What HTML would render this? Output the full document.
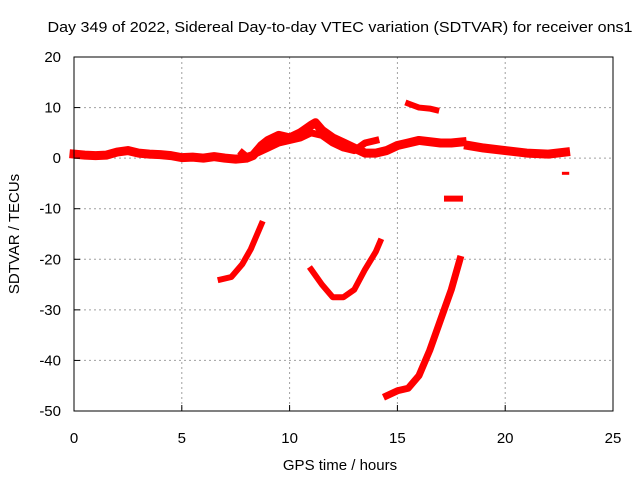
<!DOCTYPE html>
<html><head><meta charset="utf-8"><style>
body{margin:0;background:#fff}
svg text{font-family:"Liberation Sans",sans-serif;font-size:14px;fill:#000}
</style></head><body>
<svg id="chart" width="640" height="480">
<text x="340" y="32" text-anchor="middle" textLength="585" lengthAdjust="spacingAndGlyphs" style="font-size:15px">Day 349 of 2022, Sidereal Day-to-day VTEC variation (SDTVAR) for receiver ons1</text>
<text x="340" y="470" text-anchor="middle" style="font-size:15px">GPS time / hours</text>
<text transform="translate(19,234) rotate(-90)" text-anchor="middle" style="font-size:15px">SDTVAR / TECUs</text>
<g id="grid"></g><g id="marks"></g><g id="axes"></g>
</svg>
<script>
const xTicks=[0,5,10,15,20,25];
const yTicks=[20,10,0,-10,-20,-30,-40,-50];
const trackMain=[[0,0.8],[0.5,0.6],[1,0.5],[1.5,0.6],[2,1.2],[2.5,1.5],[3,1],[3.5,0.8],[4,0.7],[4.5,0.5],[5,0.1],[5.5,0.2],[6,0],[6.5,0.3],[7,0],[7.5,-0.2],[8,0],[8.3,0.5],[8.7,2.5],[9,3.5],[9.5,4.5],[10,4],[10.5,5],[11,6.5],[11.2,7],[11.5,5.5],[12,4],[12.5,3],[13,2],[13.5,1],[14,1],[14.5,1.5],[15,2.5],[15.5,3],[16,3.5],[17,3],[17.5,3],[18,3.2]];
const trackLate=[[18.3,2.5],[19,2],[20,1.5],[21,1],[22,0.8],[22.8,1.2]];
const trackBranch=[[7.8,1],[8,0.3],[8.5,1],[9,2],[9.5,3],[10,3.5],[10.5,4],[11,5],[11.5,4.5],[12,3],[12.5,2],[13,1.5],[13.5,3],[14,3.5]];
const trackHigh=[[15.5,10.8],[16,10],[16.5,9.8],[16.8,9.5]];
const trackMinus8=[[17.3,-8],[17.9,-8]];
const trackPoint=[[22.7,-3],[22.9,-3]];
const curve1=[[6.8,-24],[7.3,-23.5],[7.8,-21],[8.2,-18],[8.5,-15],[8.7,-13]];
const curve2=[[11,-22],[11.5,-25],[12,-27.5],[12.5,-27.5],[13,-26],[13.5,-22],[14,-18.5],[14.2,-16.5]];
const curve3=[[14.5,-47],[15,-46],[15.5,-45.5],[16,-43],[16.5,-38],[17,-32],[17.5,-26],[17.9,-20]];
const X0=74,X1=613,Y0=57,Y1=411;
const sx=v=>X0+(v-0)/25*(X1-X0);
const sy=v=>Y0+(20-v)/70*(Y1-Y0);
const NS="http://www.w3.org/2000/svg";
function mk(t,a,p){const e=document.createElementNS(NS,t);for(const k in a)e.setAttribute(k,a[k]);p.appendChild(e);return e;}
const grid=document.getElementById('grid'),axes=document.getElementById('axes'),marks=document.getElementById('marks');
xTicks.forEach(t=>{const x=sx(t);
 if(t>0&&t<25){const g=mk('line',{x1:x,x2:x,y1:Y0,y2:Y1,stroke:'#a0a0a0','stroke-dasharray':'2,3'},grid);
 }
 const l=mk('line',{x1:x,x2:x,y1:Y1,y2:Y1-6,stroke:'#000'},axes);
 
 const tx=mk('text',{x:x,y:Y1+32,'text-anchor':'middle',style:'font-size:15px'},axes);tx.textContent=t;
 });
yTicks.forEach(t=>{const y=sy(t);
 if(t<20&&t>-50){const g=mk('line',{x1:X0,x2:X1,y1:y,y2:y,stroke:'#a0a0a0','stroke-dasharray':'2,3'},grid);
 }
 const l=mk('line',{x1:X0,x2:X0+6,y1:y,y2:y,stroke:'#000'},axes);
 
 const tx=mk('text',{x:X0-13,y:y+5,'text-anchor':'end',style:'font-size:15px'},axes);tx.textContent=t;
 });
const frame=mk('rect',{x:X0,y:Y0,width:X1-X0,height:Y1-Y0,fill:'none',stroke:'#000'},axes);

const series=[[trackMain,9],[trackLate,9],[trackBranch,7],[trackHigh,6],[trackMinus8,6],[trackPoint,3],[curve1,6],[curve2,6],[curve3,7]];
series.forEach(([d,w])=>{
 const p=mk('polyline',{points:d.map(q=>sx(q[0])+','+sy(q[1])).join(' '),fill:'none',stroke:'#ff0000','stroke-width':w,'stroke-linejoin':'round','stroke-linecap':'square'},marks);
 });
</script>
</body></html>
